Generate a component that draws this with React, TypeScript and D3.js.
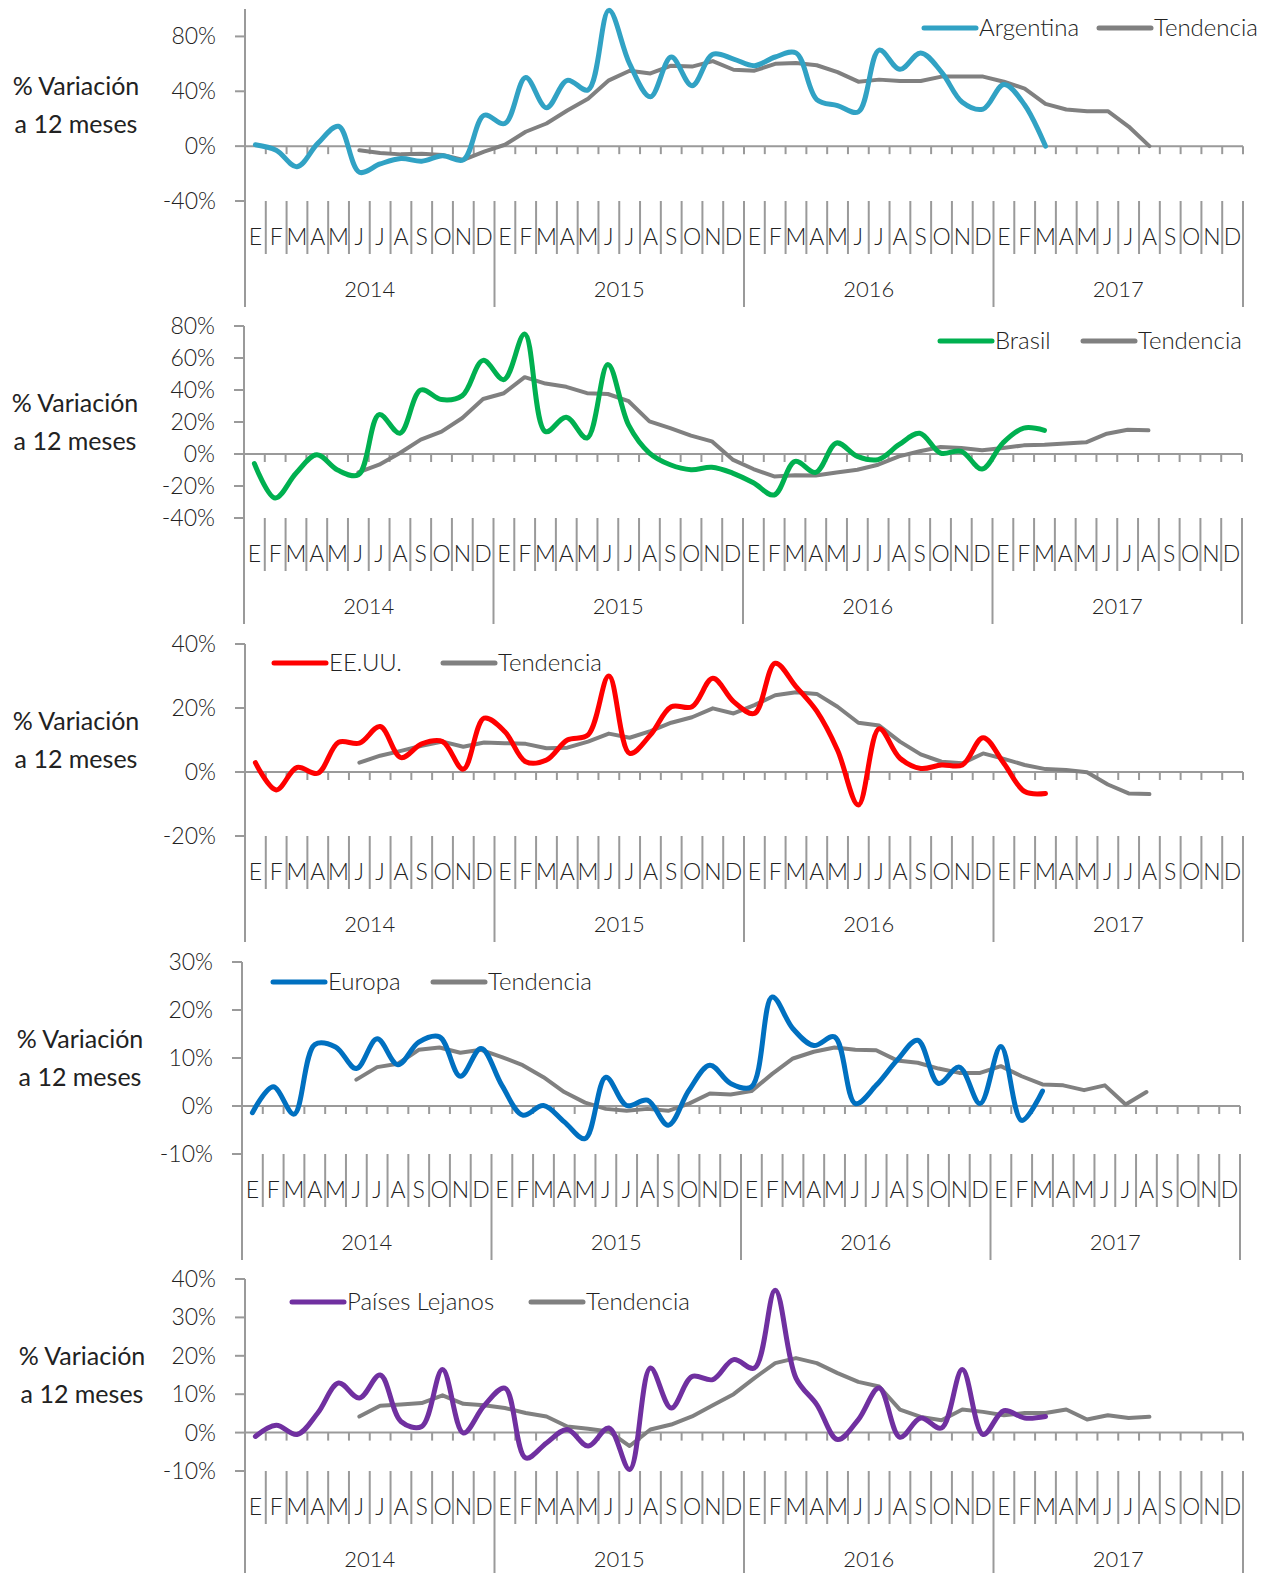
import React from 'react';
import * as d3 from 'd3';

// month / year labels
const months = ['E', 'F', 'M', 'A', 'M', 'J', 'J', 'A', 'S', 'O', 'N', 'D'];
const years = ['2014', '2015', '2016', '2017'];

// % variation at 12 months, Jan 2014 .. Mar 2017
const argentina = [1, -3, -15, 2, 14.5, -19, -13, -9, -11, -7, -10, 22.5, 16.5, 50, 28, 48, 41, 99, 60, 36, 65, 44, 67, 63.5, 58.7, 65, 68, 34, 29.6, 25, 70, 56, 68, 54, 32, 27, 45, 30, 0];
const argentinaTrend = [null, null, null, null, null, -3, -5, -6, -5.5, -6.5, -10, -4, 1, 10.5, 16.5, 26, 34.6, 48, 55, 53, 58.7, 58, 62, 55.7, 55, 60, 60.6, 59, 54, 47, 48.5, 47.5, 47.5, 50.7, 50.7, 50.7, 47, 42, 30.8, 26.7, 25.5, 25.5, 14.3, 0];

const brasil = [-6, -27.5, -12, -0.5, -10, -13, 24.6, 13, 40, 34, 36.5, 58.5, 46.5, 75, 14, 23, 10, 56, 18, 0.6, -6.7, -9.8, -8.3, -11.9, -18, -25.6, -4.6, -11.5, 6.9, -1.5, -3.5, 5.8, 13, 0.6, 1.7, -9.4, 6.9, 16.2, 14.8];
const brasilTrend = [null, null, null, null, null, -11.5, -6.7, 0.6, 9, 14, 22.5, 34.4, 38, 48, 44, 42, 38, 37.5, 33, 20.4, 16.2, 11.5, 7.9, -3.5, -9.4, -14, -13.3, -13.5, -11.5, -9.8, -6.7, -1.5, 1.7, 4.4, 3.7, 2.3, 3.7, 5.4, 5.8, 6.5, 7.3, 12.7, 15.2, 14.8];

const eeuu = [2.9, -5.6, 1.4, -0.4, 9.3, 9, 14.2, 4.5, 8.8, 9.5, 0.9, 16.8, 12.6, 3.2, 3.75, 10, 11.6, 30, 5.8, 11.6, 20.4, 20.4, 29.3, 22, 18.3, 34, 26.7, 19, 6.8, -10.3, 13.5, 4.3, 1.1, 2.2, 2.2, 10.7, 2.7, -6.1, -6.7];
const eeuuTrend = [null, null, null, null, null, 2.9, 5.1, 6.6, 8.2, 9.5, 7.9, 9.2, 9, 8.8, 7.4, 7.6, 9.5, 12, 10.7, 12.8, 15.4, 17.1, 19.9, 18.3, 20.9, 24, 24.9, 24.4, 20.4, 15.4, 14.5, 9.5, 5.5, 3.2, 2.7, 5.8, 4.1, 2.2, 0.9, 0.6, -0.1, -3.9, -6.7, -6.9];

const europa = [-1.4, 4, -1.7, 12.8, 12.3, 7.8, 14, 8.6, 13.3, 14.4, 6.2, 12, 4.3, -1.9, 0.1, -3.3, -6.8, 6, 0.1, 1.2, -4, 3.3, 8.5, 4.7, 4, 22.7, 16.1, 12.6, 14.4, 0.5, 4.3, 9.5, 13.7, 4.7, 8.1, 0.5, 12.4, -3, 3.1];
const europaTrend = [null, null, null, null, null, 5.5, 8.1, 8.8, 11.7, 12.2, 11.1, 11.7, 10.2, 8.5, 6, 2.9, 0.7, -0.6, -1, -0.6, -1, 0.5, 2.6, 2.4, 3.1, 6.7, 9.9, 11.3, 12.2, 11.7, 11.6, 9.5, 9, 7.8, 6.9, 6.9, 8.3, 6.2, 4.5, 4.3, 3.3, 4.3, 0.3, 2.9];

const paises = [-1, 1.9, -0.5, 5.1, 12.9, 9, 15, 2.9, 1.6, 16.4, -0.1, 7, 11.6, -6.6, -2.7, 0.8, -3.5, 1.2, -9.6, 16.8, 6.4, 14.6, 13.8, 19, 16.8, 37.1, 14.2, 7.3, -1.8, 3.4, 11.6, -1.2, 3.8, 1.2, 16.4, -0.5, 5.7, 3.8, 4.2];
const paisesTrend = [null, null, null, null, null, 4.2, 7, 7.3, 7.7, 9.7, 7.5, 7.1, 6.4, 5.1, 4.2, 1.6, 1, 0.3, -3.5, 0.8, 2.1, 4.2, 7.1, 10, 14.2, 18.1, 19.4, 18.1, 15.5, 13.2, 12, 6, 4.1, 3.2, 6, 5.4, 4.5, 5.1, 5.1, 6, 3.4, 4.5, 3.8, 4.1];

const PLOT_W = 998;
const PLOT_H = 192;
const MONTH_BAND = 53;
const YEAR_BAND = 53;
const AXIS = '#9a9a9a';
const TXT = '#222222';
const GRAY = '#808080';
const FONT = "Lato, 'Open Sans', sans-serif";

const panels = [
  { name: 'Argentina', color: '#31a2c4', values: argentina, trend: argentinaTrend, domain: [-40, 100], ticks: [-40, 0, 40, 80],
    top: 9, left: 245, titleX: 76, legend: { y: 28, a: 924, b: 1099 } },
  { name: 'Brasil', color: '#00b050', values: brasil, trend: brasilTrend, domain: [-40, 80], ticks: [-40, -20, 0, 20, 40, 60, 80],
    top: 326, left: 244, titleX: 75, legend: { y: 341, a: 940, b: 1083 } },
  { name: 'EE.UU.', color: '#ff0000', values: eeuu, trend: eeuuTrend, domain: [-20, 40], ticks: [-20, 0, 20, 40],
    top: 644, left: 245, titleX: 76, legend: { y: 663, a: 274, b: 443 } },
  { name: 'Europa', color: '#0070c0', values: europa, trend: europaTrend, domain: [-10, 30], ticks: [-10, 0, 10, 20, 30],
    top: 962, left: 242, titleX: 80, legend: { y: 982, a: 273, b: 433 } },
  { name: 'Países Lejanos', color: '#7030a0', values: paises, trend: paisesTrend, domain: [-10, 40], ticks: [-10, 0, 10, 20, 30, 40],
    top: 1279, left: 245, titleX: 82, legend: { y: 1302, a: 292, b: 531 } },
];

const Panel = ({ p }: { p: any }) => {
  const idx = d3.range(48);
  const x = d3.scaleBand<number>().domain(idx).range([p.left, p.left + PLOT_W]).paddingInner(0).paddingOuter(0);
  const bw = x.bandwidth();
  const cx = (i: number) => (x(i) as number) + bw / 2;
  const y = d3.scaleLinear().domain(p.domain).range([p.top + PLOT_H, p.top]);
  const bottom = p.top + PLOT_H;
  const y0 = y(0);
  const right = p.left + PLOT_W;

  const smooth = d3.line<number | null>()
    .defined(d => d != null)
    .x((_, i) => cx(i))
    .y(d => y(d as number))
    .curve(d3.curveCatmullRom.alpha(0.5));
  const straight = d3.line<number | null>()
    .defined(d => d != null)
    .x((_, i) => cx(i))
    .y(d => y(d as number));

  const bounds = d3.range(49).map(k => p.left + k * bw);
  const L = p.legend;

  return (
    <g>
      {/* y title */}
      <text x={p.titleX} y={p.top + 86} textAnchor="middle" fontSize={25} fontWeight={400} fill={TXT}>% Variación</text>
      <text x={p.titleX} y={p.top + 124} textAnchor="middle" fontSize={25} fontWeight={400} fill={TXT}>a 12 meses</text>

      {/* y axis */}
      <line x1={p.left} x2={p.left} y1={p.top} y2={bottom + MONTH_BAND + YEAR_BAND} stroke={AXIS} strokeWidth={2} />
      {p.ticks.map((t: number) => (
        <g key={t}>
          <line x1={p.left - 10} x2={p.left} y1={y(t)} y2={y(t)} stroke={AXIS} strokeWidth={2} />
          <text x={p.left - 29} y={y(t)} dy="0.35em" textAnchor="end" fontSize={23} fill={TXT}>{t}%</text>
        </g>
      ))}

      {/* zero axis with month ticks */}
      <line x1={p.left} x2={right} y1={y0} y2={y0} stroke={AXIS} strokeWidth={2} />
      {bounds.slice(1).map((bx, k) => (
        <line key={'t' + k} x1={bx} x2={bx} y1={y0} y2={y0 + 8} stroke={AXIS} strokeWidth={2} />
      ))}

      {/* category bands */}
      {bounds.slice(1).map((bx, k) => {
        const isYear = (k + 1) % 12 === 0;
        return (
          <line key={'s' + k} x1={bx} x2={bx} y1={bottom} y2={bottom + MONTH_BAND + (isYear ? YEAR_BAND : 0)}
            stroke={AXIS} strokeWidth={2} />
        );
      })}
      {idx.map(i => (
        <text key={'m' + i} x={cx(i)} y={bottom + 44} textAnchor="middle" fontSize={23} fill={TXT}>{months[i % 12]}</text>
      ))}
      {years.map((yr, j) => (
        <text key={yr} x={p.left + (j * 12 + 6) * bw} y={bottom + 96} textAnchor="middle" fontSize={22} fill={TXT}>{yr}</text>
      ))}

      {/* series */}
      <path d={straight(p.trend) || ''} fill="none" stroke={GRAY} strokeWidth={4} strokeLinejoin="round" strokeLinecap="round" />
      <path d={smooth(p.values) || ''} fill="none" stroke={p.color} strokeWidth={5} strokeLinejoin="round" strokeLinecap="round" />

      {/* legend */}
      <line x1={L.a} x2={L.a + 52} y1={L.y} y2={L.y} stroke={p.color} strokeWidth={5} strokeLinecap="round" />
      <text x={L.a + 55} y={L.y} dy="0.35em" fontSize={24} fill={TXT}>{p.name}</text>
      <line x1={L.b} x2={L.b + 52} y1={L.y} y2={L.y} stroke={GRAY} strokeWidth={5} strokeLinecap="round" />
      <text x={L.b + 55} y={L.y} dy="0.35em" fontSize={24} fill={TXT}>Tendencia</text>
    </g>
  );
};

const App = () => {
  return (
    <svg width={1274} height={1573} style={{ position: 'absolute', left: 0, top: 0, display: 'block' }}
      fontFamily={FONT} fontWeight={300}>
      <rect width={1274} height={1573} fill="#ffffff" />
      {panels.map(p => <Panel key={p.name} p={p} />)}
    </svg>
  );
};

export default App;
